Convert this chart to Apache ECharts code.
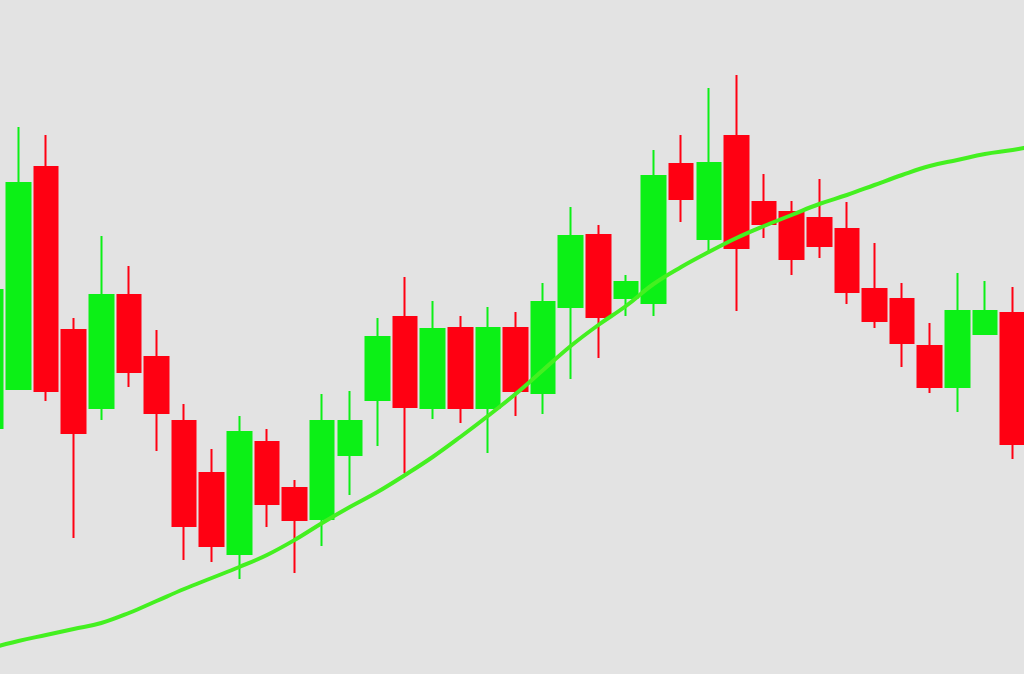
<!DOCTYPE html>
<html>
<head>
<meta charset="utf-8">
<title>K线图</title>
<script src="https://cdn.jsdelivr.net/npm/echarts/dist/echarts.min.js"></script>
<style>
	html, body { margin: 0; padding: 0; background: #e3e3e3; overflow: hidden; }
	/* 图表比窗口略宽，左右两边的K线被裁掉一半 */
	#chart { position: absolute; left: -23px; top: 0; width: 1077px; height: 674px; }
</style>
</head>
<body>
<div id="chart"></div>
<script>
// 类目（最后一个只给均线用）
var days = [];
for (var i = 0; i < 39; i++) days.push('D' + (i + 1));

// K线数据 [开, 收, 低, 高]
var candles = [
	[246, 384, 246, 394],
	[285, 491, 285, 547],
	[507, 283, 273, 539],
	[344, 241, 136, 356],
	[266, 379, 254, 438],
	[379, 302, 287, 408],
	[317, 261, 223, 344],
	[253, 148, 114, 270],
	[201, 128, 112, 225],
	[120, 242, 95, 258],
	[232, 170, 147, 245],
	[186, 154, 101, 194],
	[155, 253, 128, 280],
	[219, 253, 179, 283],
	[274, 337, 228, 356],
	[357, 267, 201, 397],
	[266, 345, 255, 373],
	[346, 266, 251, 358],
	[266, 346, 221, 367],
	[346, 283, 258, 362],
	[281, 372, 260, 391],
	[367, 438, 295, 467],
	[439, 357, 316, 449],
	[376, 392, 358, 399],
	[371, 498, 358, 524],
	[510, 475, 452, 539],
	[435, 511, 422, 586],
	[538, 426, 363, 599],
	[472, 450, 436, 500],
	[462, 415, 399, 473],
	[456, 428, 416, 495],
	[445, 382, 370, 472],
	[385, 353, 346, 431],
	[375, 331, 307, 391],
	[328, 287, 281, 351],
	[287, 363, 262, 401],
	[340, 363, 340, 393],
	[361, 230, 215, 387],
	'-'
];

// 均线
var maLine = [
	26, 33, 39, 45, 51, 61, 73, 85, 96, 107,
	119, 134, 151, 167, 182, 199, 217, 237, 258, 280,
	304, 328, 349, 368, 390, 407, 422, 436, 448, 459,
	470, 479, 489, 499, 508, 514, 520, 524, 529
];

var myChart = echarts.init(document.getElementById('chart'));
myChart.setOption({
	backgroundColor: '#e3e3e3',
	animation: false,
	grid: { left: 0, right: 0, top: 0, bottom: 0 },
	xAxis: {
		type: 'category',
		data: days,
		show: false
	},
	yAxis: {
		type: 'value',
		min: 0,
		max: 674,
		show: false,
		splitLine: { show: false }
	},
	series: [
		{
			type: 'candlestick',
			data: candles,
			barWidth: 24,
			itemStyle: {
				color: '#0cf016',
				color0: '#ff0012',
				borderColor: '#0cf016',
				borderColor0: '#ff0012',
				borderWidth: 2
			}
		},
		{
			type: 'line',
			data: maLine,
			smooth: 0.4,
			symbol: 'none',
			z: 3,
			lineStyle: { color: '#44f020', width: 4 }
		}
	]
});
</script>
</body>
</html>
